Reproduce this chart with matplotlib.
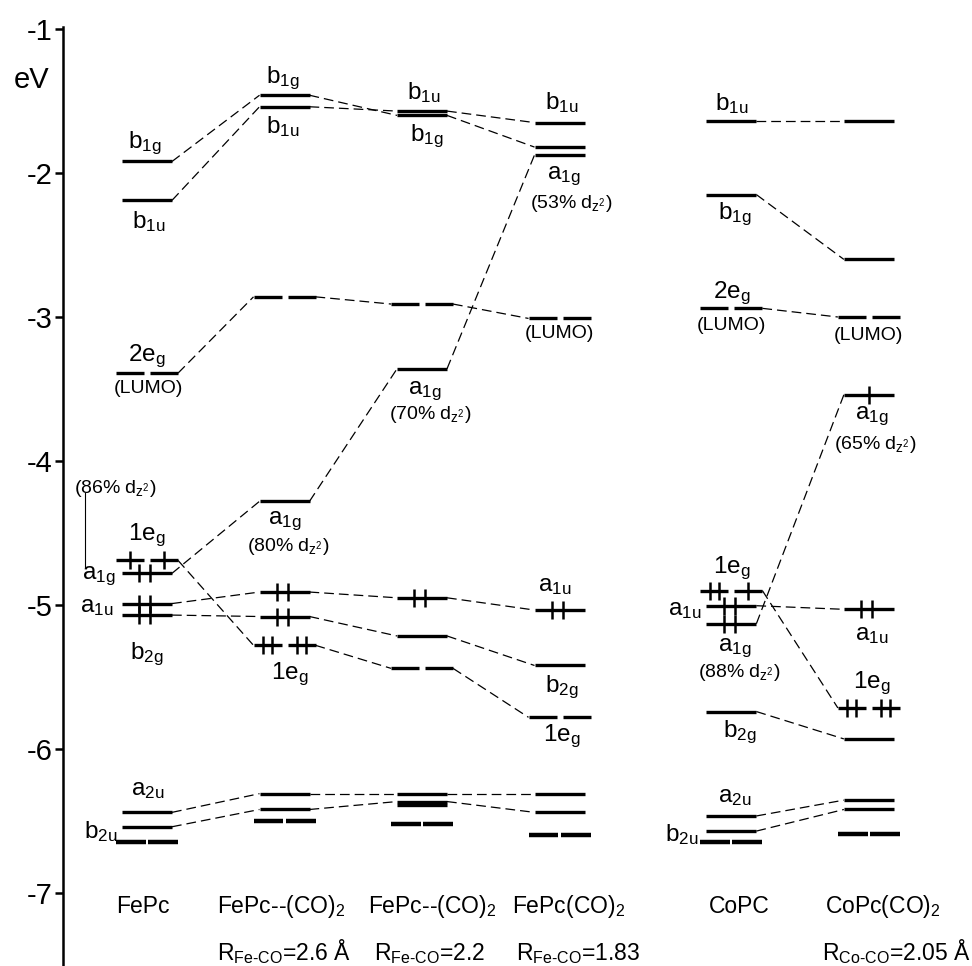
import matplotlib
matplotlib.use('Agg')
import matplotlib.pyplot as plt

plt.rcParams['font.family'] = ['Liberation Sans', 'DejaVu Sans']
plt.rcParams['mathtext.fontset'] = 'custom'
plt.rcParams['mathtext.rm'] = 'Liberation Sans'
plt.rcParams['mathtext.it'] = 'Liberation Sans:italic'
plt.rcParams['mathtext.bf'] = 'Liberation Sans:bold'
plt.rcParams['axes.unicode_minus'] = False
plt.rcParams['lines.scale_dashes'] = False

# ---------------- data ----------------
columns = ['FePc', r'FePc--(CO)$_\mathrm{2}$', r'FePc--(CO)$_\mathrm{2}$',
           r'FePc(CO)$_\mathrm{2}$', 'CoPC', r'CoPc(CO)$_\mathrm{2}$']
distances = ['', r'R$_{\text{Fe-CO}}$=2.6 Å', r'R$_{\text{Fe-CO}}$=2.2',
             r'R$_{\text{Fe-CO}}$=1.83', '', r'R$_{\text{Co-CO}}$=2.05 Å']
yticks = [-1, -2, -3, -4, -5, -6, -7]

# FePc series (columns 0..3), energies in eV
fe_b1g = [-1.92, -1.46, -1.60, -1.82]
fe_b1u = [-2.19, -1.54, -1.57, -1.65]
fe_2eg = [-3.39, -2.86, -2.91, -3.01]
fe_a1g = [-4.78, -4.28, -3.36, -1.875]
fe_1eg = [-4.69, -5.28, -5.44, -5.78]
fe_a1u = [-4.99, -4.91, -4.95, -5.035]
fe_b2g = [-5.07, -5.08, -5.215, -5.42]
fe_a2u = [-6.44, -6.31, -6.31, -6.31]
fe_b2u = [-6.54, -6.42, -6.365, -6.44]
fe_eu = [-6.645, -6.50, -6.52, -6.60]
fe_extra_c3 = -6.39
# electrons
fe_a1g_el = [2, 0, 0, 0]
fe_1eg_el = [2, 4, 0, 0]
fe_a1u_el = [2, 2, 2, 2]
fe_b2g_el = [2, 2, 0, 0]

# CoPc series (columns 4..5)
co_b1u = [-1.64, -1.64]
co_b1g = [-2.15, -2.60]
co_2eg = [-2.94, -3.00]
co_a1g = [-5.13, -3.54]
co_1eg = [-4.90, -5.715]
co_a1u = [-5.005, -5.03]
co_b2g = [-5.74, -5.93]
co_a2u = [-6.465, -6.355]
co_b2u = [-6.57, -6.42]
co_eu = [-6.645, -6.59]
co_a1g_el = [2, 1]
co_1eg_el = [3, 4]
co_a1u_el = [2, 2]

# ---------------- layout ----------------
col_x = [0, 1, 2, 3, 4.25, 5.25]
PX = 137.5                      # pixels per x unit
HW = 25 / PX
HWD = 31 / PX
GAP = 6 / PX

fig = plt.figure(figsize=(9.72, 9.66), dpi=100)
ax = fig.add_axes([63 / 972, 0, 1 - 63 / 972, (966 - 27) / 966])
ax.set_xlim(-84 / PX, (972 - 147) / PX)
ax.set_ylim(-1 - (966 - 29) / 144, -1 + 2 / 144)

for s in ['top', 'right', 'bottom']:
    ax.spines[s].set_visible(False)
ax.spines['left'].set_linewidth(1.8)
ax.set_xticks([])
ax.set_yticks(yticks)
ax.set_yticklabels([str(t) for t in yticks])
ax.tick_params(axis='y', direction='out', length=5.8, width=1.8, labelsize=21, pad=1.5)

LFS = 17.5
SFS = 14
NFS = 16.5


def half(deg):
    return HWD if deg else HW


def draw_level(x, E, deg=False, n=0, lw=2.4, gap=GAP):
    if deg:
        segs = [(x - HWD, x - gap / 2), (x + gap / 2, x + HWD)]
        counts = [(n + 1) // 2, n // 2]
        offs = {1: [0.0], 2: [-0.035, 0.03]}
    else:
        segs = [(x - HW, x + HW)]
        counts = [n]
        offs = {1: [0.0], 2: [-0.055, 0.025]}
    for (a, b), c in zip(segs, counts):
        ax.plot([a, b], [E, E], color='black', lw=lw, solid_capstyle='butt')
        mid = (a + b) / 2
        for o in offs.get(c, []):
            ax.plot([mid + o], [E], marker='|', ms=13.5, mew=1.8, color='black')


def draw_series(xs, Es, deg=False, els=None, connect=True, lw=2.4, gap=GAP):
    for i, (x, E) in enumerate(zip(xs, Es)):
        draw_level(x, E, deg, els[i] if els else 0, lw=lw, gap=gap)
    if connect:
        for i in range(len(xs) - 1):
            ax.plot([xs[i] + half(deg), xs[i + 1] - half(deg)], [Es[i], Es[i + 1]],
                    color='black', lw=0.9, dashes=(7, 3.6))


fe_x = col_x[:4]
co_x = col_x[4:]
draw_series(fe_x, fe_b1g)
draw_series(fe_x, fe_b1u)
draw_series(fe_x, fe_2eg, deg=True)
draw_series(fe_x, fe_a1g, els=fe_a1g_el)
draw_series(fe_x, fe_1eg, deg=True, els=fe_1eg_el)
draw_series(fe_x, fe_a1u, els=fe_a1u_el)
draw_series(fe_x, fe_b2g, els=fe_b2g_el)
draw_series(fe_x, fe_a2u)
draw_series(fe_x, fe_b2u)
draw_series(fe_x, fe_eu, deg=True, connect=False, lw=3.2, gap=0.015)
draw_level(col_x[2], fe_extra_c3)

draw_series(co_x, co_b1u)
draw_series(co_x, co_b1g)
draw_series(co_x, co_2eg, deg=True)
draw_series(co_x, co_a1g, els=co_a1g_el)
draw_series(co_x, co_1eg, deg=True, els=co_1eg_el)
draw_series(co_x, co_a1u, els=co_a1u_el)
draw_series(co_x, co_b2g)
draw_series(co_x, co_a2u)
draw_series(co_x, co_b2u)
draw_series(co_x, co_eu, deg=True, connect=False, lw=3.2, gap=0.015)

# ---------------- labels ----------------
def lab(text, col, E, dx, dy, ha='center', size=LFS):
    ax.annotate(text, xy=(col_x[col], E), xytext=(dx, dy), textcoords='offset pixels',
                ha=ha, va='center', fontsize=size)


b1g = r'b$_\mathrm{1g}$'
b1u = r'b$_\mathrm{1u}$'
b2g = r'b$_\mathrm{2g}$'
b2u = r'b$_\mathrm{2u}$'
a1g = r'a$_\mathrm{1g}$'
a1u = r'a$_\mathrm{1u}$'
a2u = r'a$_\mathrm{2u}$'
e1g = r'1e$_\mathrm{g}$'
e2g = r'2e$_\mathrm{g}$'
lumo = '(LUMO)'


def dz(p):
    return '(' + p + r'% d$_{\mathrm{z}^\mathrm{2}}$)'


# FePc
lab(b1g, 0, fe_b1g[0], -2, 18)
lab(b1u, 0, fe_b1u[0], 2, -21)
lab(e2g, 0, fe_2eg[0], 0, 17)
lab(lumo, 0, fe_2eg[0], 1, -15, size=SFS)
lab(dz('86'), 0, fe_a1g[0], -32, 85, size=SFS)
lab(e1g, 0, fe_1eg[0], 0, 25)
lab(a1g, 0, fe_a1g[0], -31, -3, ha='right')
lab(a1u, 0, fe_a1u[0], -33, -3, ha='right')
lab(b2g, 0, fe_b2g[0], 0, -39)
lab(a2u, 0, fe_a2u[0], 1, 22)
lab(b2u, 0, fe_b2u[0], -29, -5, ha='right')
ax.plot([col_x[0] - 62 / PX] * 2, [fe_a1g[0] + 0.04, fe_a1g[0] + 0.56], color='black', lw=0.8)

# FePc--(CO)2 2.6
lab(b1g, 1, fe_b1g[1], -2, 17)
lab(b1u, 1, fe_b1u[1], -2, -20)
lab(a1g, 1, fe_a1g[1], 0, -20)
lab(dz('80'), 1, fe_a1g[1], 4, -45, size=SFS)
lab(e1g, 1, fe_1eg[1], 5, -29)

# FePc--(CO)2 2.2
lab(b1u, 2, fe_b1u[2], 2, 19)
lab(b1g, 2, fe_b1g[2], 5, -21)
lab(a1g, 2, fe_a1g[2], 3, -22)
lab(dz('70'), 2, fe_a1g[2], 8, -46, size=SFS)

# FePc(CO)2
lab(b1u, 3, fe_b1u[3], 2, 20)
lab(a1g, 3, fe_a1g[3], 4, -21)
lab(dz('53'), 3, fe_a1g[3], 12, -49, size=SFS)
lab(lumo, 3, fe_2eg[3], 0, -15, size=SFS)
lab(a1u, 3, fe_a1u[3], -5, 24)
lab(b2g, 3, fe_b2g[3], 2, -22)
lab(e1g, 3, fe_1eg[3], 2, -19)

# CoPC
lab(b1u, 4, co_b1u[0], 0, 18)
lab(b1g, 4, co_b1g[0], 3, -20)
lab(e2g, 4, co_2eg[0], 0, 15)
lab(lumo, 4, co_2eg[0], 0, -17, size=SFS)
lab(e1g, 4, co_1eg[0], 0, 22)
lab(a1u, 4, co_a1u[0], -30, -4, ha='right')
lab(a1g, 4, co_a1g[0], 3, -25)
lab(dz('88'), 4, co_a1g[0], 8, -49, size=SFS)
lab(b2g, 4, co_b2g[0], 8, -21)
lab(a2u, 4, co_a2u[0], 3, 19)
lab(b2u, 4, co_b2u[0], -33, -3, ha='right')

# CoPc(CO)2
lab(lumo, 5, co_2eg[1], 0, -19, size=SFS)
lab(a1g, 5, co_a1g[1], 3, -22)
lab(dz('65'), 5, co_a1g[1], 6, -50, size=SFS)
lab(a1u, 5, co_a1u[1], 3, -26)
lab(e1g, 5, co_1eg[1], 3, 25)

# column names and distances
name_dx = [-4, -3, 10, 9, 8, 14]
dist_dx = [0, 0, 8, 19, 0, 27]
for i, (nm, ds) in enumerate(zip(columns, distances)):
    ax.text(col_x[i] + name_dx[i] / PX, -7.14, nm, ha='center', va='baseline', fontsize=NFS)
    if ds:
        ax.text(col_x[i] + dist_dx[i] / PX, -7.465, ds, ha='center', va='baseline', fontsize=NFS)

ax.text(-115 / PX, -1.41, 'eV', ha='center', va='baseline', fontsize=21, clip_on=False)

fig.savefig('out.png', dpi=100)
